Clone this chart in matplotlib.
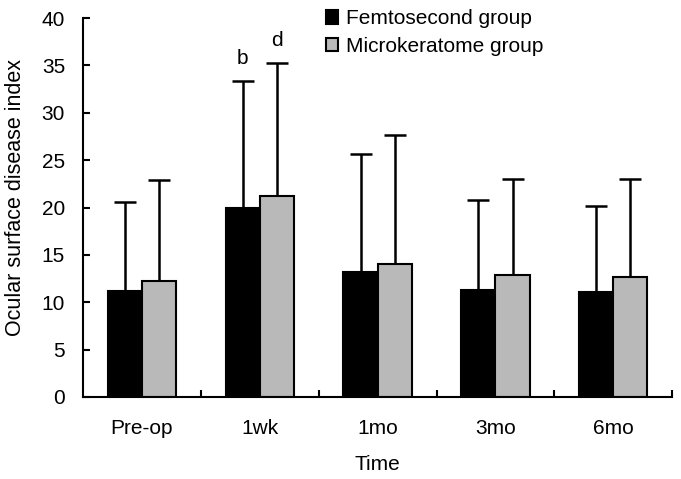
import numpy as np
import matplotlib.pyplot as plt

plt.rcParams['font.family'] = ['Liberation Sans', 'DejaVu Sans']

times = ['Pre-op', '1wk', '1mo', '3mo', '6mo']
femto_mean = [11.2, 19.9, 13.2, 11.3, 11.1]
femto_sd = [9.4, 13.5, 12.4, 9.5, 9.1]
micro_mean = [12.2, 21.25, 14.0, 12.9, 12.7]
micro_sd = [10.7, 14.05, 13.7, 10.1, 10.3]
labels = ['Femtosecond group', 'Microkeratome group']
marks = [('b', 1, 0), ('d', 1, 1)]

fig = plt.figure(figsize=(6.81, 4.79), dpi=100)
ax = fig.add_axes([0.122, 0.1712, 0.865, 0.7912])

x = np.arange(len(times))
w = 0.29
means = [femto_mean, micro_mean]
sds = [femto_sd, micro_sd]
colors = ['black', '#b9b9b9']
for k in range(2):
    pos = x + (k - 0.5) * w
    ax.bar(pos, means[k], w, color=colors[k], edgecolor='black',
           linewidth=1.5, label=labels[k], zorder=2)
    ax.errorbar(pos, means[k], yerr=[np.zeros(len(x)), sds[k]], fmt='none',
                ecolor='black', elinewidth=1.8, capsize=8, capthick=1.8, zorder=1)

for txt, i, k in marks:
    top = means[k][i] + sds[k][i]
    ax.text(x[i] + (k - 0.5) * w, top + 1.3, txt, ha='center', va='bottom', fontsize=15)

ax.set_xlim(-0.5, len(times) - 0.5)
ax.set_ylim(0, 40)
ax.set_yticks(range(0, 41, 5))
ax.set_xticks(x)
ax.set_xticklabels(times, fontsize=15)
ax.tick_params(axis='x', length=0, pad=16)
ax.set_xticks(np.arange(0.5, len(times), 1), minor=True)
ax.tick_params(axis='x', which='minor', direction='in', length=5, width=1.5)
ax.tick_params(axis='y', direction='in', length=5, width=1.5, labelsize=15, pad=13)
for s in ['top', 'right']:
    ax.spines[s].set_visible(False)
for s in ['left', 'bottom']:
    ax.spines[s].set_linewidth(1.5)

# y label placed in figure coords
fig.text(16 / 681, 1 - 198 / 479, 'Ocular surface disease index', rotation=90,
         ha='center', va='center', fontsize=15.5)
ax.set_xlabel('Time', fontsize=15, labelpad=12)

fig.legend(loc='upper left', bbox_to_anchor=(0.475, 0.985), frameon=False,
           fontsize=15, handlelength=0.6, handleheight=0.6, handletextpad=0.4,
           labelspacing=0.42, borderpad=0.1, borderaxespad=0)

fig.savefig('out.png', dpi=100)
